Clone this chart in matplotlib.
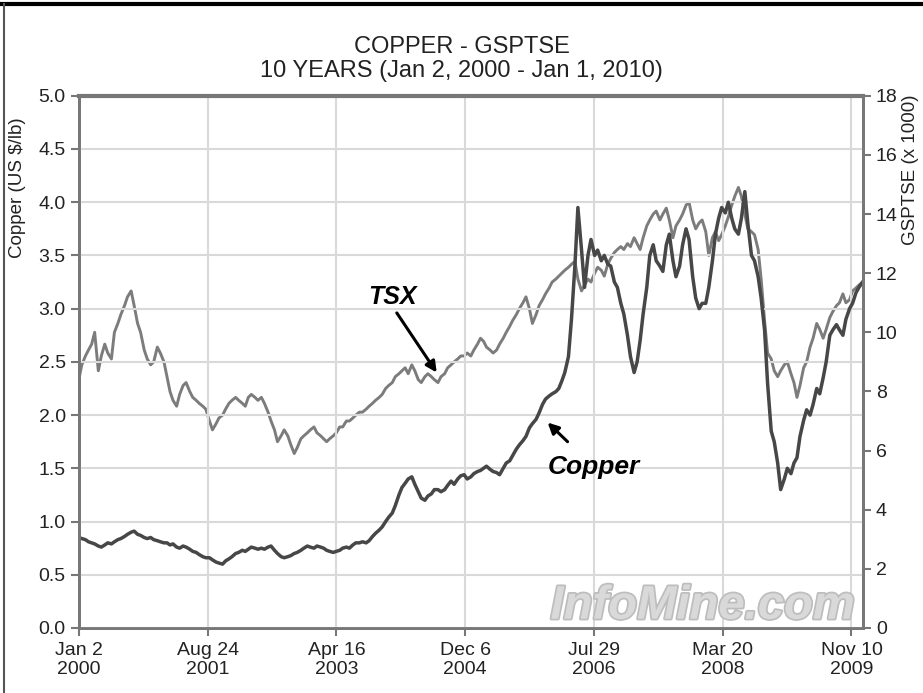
import matplotlib.pyplot as plt
import matplotlib.dates as mdates
import matplotlib.patheffects as pe
from matplotlib.lines import Line2D
import pandas as pd

plt.rcParams['font.family'] = ['Liberation Sans', 'DejaVu Sans']

# half-monthly readings (1st and 15th), Jan 2000 .. Jan 1 2010
dates = pd.date_range("2000-01-01", "2010-01-01", freq="SMS")

copper = [
    .85, .84, .83, .81, .80, .79, .77, .76, .78, .80, .79, .81, .83, .84, .86, .88, .90, .91, .88, .87, .85, .84, .85, .83,
    .82, .81, .80, .80, .78, .79, .76, .75, .77, .76, .74, .72, .71, .69, .67, .66, .66, .64, .62, .61, .60, .63, .65, .67,
    .70, .71, .73, .72, .74, .76, .75, .74, .75, .74, .76, .77, .73, .70, .67, .66, .67, .68, .70, .71, .73, .75, .77, .76,
    .75, .77, .76, .75, .73, .72, .71, .72, .73, .75, .76, .75, .78, .80, .80, .81, .80, .82, .86, .89, .92, .95, 1.00, 1.04,
    1.08, 1.15, 1.25, 1.32, 1.36, 1.40, 1.42, 1.35, 1.28, 1.22, 1.20, 1.24, 1.26, 1.30, 1.30, 1.28, 1.30, 1.34, 1.38, 1.35, 1.40, 1.43, 1.44, 1.40,
    1.42, 1.45, 1.47, 1.48, 1.50, 1.52, 1.49, 1.47, 1.46, 1.44, 1.50, 1.55, 1.57, 1.62, 1.68, 1.72, 1.76, 1.80, 1.88, 1.92, 1.96, 2.02, 2.10, 2.15,
    2.18, 2.20, 2.22, 2.25, 2.32, 2.40, 2.55, 2.90, 3.40, 3.95, 3.55, 3.20, 3.50, 3.65, 3.50, 3.55, 3.45, 3.50, 3.42, 3.40, 3.25, 3.20, 3.05, 2.95,
    2.75, 2.55, 2.40, 2.50, 2.70, 2.95, 3.20, 3.50, 3.60, 3.45, 3.40, 3.35, 3.60, 3.70, 3.45, 3.30, 3.40, 3.60, 3.75, 3.65, 3.30, 3.10, 3.00, 3.05,
    3.05, 3.20, 3.45, 3.70, 3.85, 3.95, 3.90, 4.00, 3.85, 3.75, 3.70, 3.85, 4.10, 3.80, 3.50, 3.45, 3.30, 3.10, 2.80, 2.30, 1.85, 1.75, 1.55, 1.30,
    1.40, 1.50, 1.45, 1.55, 1.60, 1.80, 1.95, 2.05, 2.00, 2.10, 2.25, 2.20, 2.35, 2.50, 2.75, 2.80, 2.85, 2.80, 2.75, 2.90, 3.00, 3.05, 3.15, 3.20,
    3.25,
]

tsx = [
    8.4, 8.9, 9.2, 9.4, 9.6, 10.0, 8.7, 9.2, 9.6, 9.3, 9.1, 10.0, 10.3, 10.6, 10.9, 11.2, 11.4, 10.9, 10.3, 10.0, 9.4, 9.1, 8.9, 9.0,
    9.5, 9.3, 9.0, 8.5, 8.0, 7.7, 7.5, 7.9, 8.2, 8.3, 8.0, 7.8, 7.7, 7.6, 7.5, 7.4, 7.0, 6.7, 6.9, 7.1, 7.2, 7.4, 7.6, 7.7,
    7.8, 7.7, 7.6, 7.5, 7.8, 7.9, 7.8, 7.7, 7.8, 7.6, 7.3, 7.0, 6.7, 6.3, 6.5, 6.7, 6.5, 6.2, 5.9, 6.1, 6.4, 6.5, 6.6, 6.7,
    6.8, 6.6, 6.5, 6.4, 6.3, 6.4, 6.5, 6.6, 6.8, 6.8, 7.0, 7.0, 7.1, 7.2, 7.3, 7.3, 7.4, 7.5, 7.6, 7.7, 7.8, 7.9, 8.1, 8.2,
    8.3, 8.5, 8.6, 8.7, 8.8, 8.6, 8.9, 8.7, 8.4, 8.3, 8.5, 8.6, 8.5, 8.4, 8.3, 8.5, 8.6, 8.8, 8.9, 9.0, 9.1, 9.2, 9.2, 9.3,
    9.2, 9.4, 9.6, 9.8, 9.7, 9.5, 9.4, 9.3, 9.4, 9.6, 9.8, 10.0, 10.2, 10.4, 10.6, 10.8, 11.0, 11.2, 10.8, 10.3, 10.6, 10.9, 11.1, 11.3,
    11.5, 11.7, 11.8, 11.9, 12.0, 12.1, 12.2, 12.3, 12.4, 11.8, 11.4, 11.6, 11.8, 11.7, 12.0, 12.2, 12.1, 11.9, 12.3, 12.5, 12.7, 12.8, 12.9, 12.8,
    13.0, 12.9, 13.2, 13.0, 12.8, 13.2, 13.6, 13.8, 14.0, 14.1, 13.8, 14.0, 14.2, 13.8, 13.2, 13.6, 13.8, 14.0, 14.3, 14.4, 13.8, 13.5, 13.7, 13.8,
    13.4, 12.6, 13.2, 13.4, 13.1, 13.3, 13.6, 13.9, 14.3, 14.6, 14.9, 14.6, 14.0, 13.5, 13.4, 13.3, 12.8, 11.8, 10.4, 9.3, 9.1, 8.7, 8.5, 8.7,
    8.9, 9.0, 8.6, 8.3, 7.8, 8.2, 8.8, 9.0, 9.5, 9.8, 10.3, 10.1, 9.8, 10.1, 10.5, 10.7, 10.9, 11.0, 11.3, 11.0, 11.1, 11.4, 11.5, 11.6,
    11.7,
]

tick_dates = ["2000-01-02", "2001-08-24", "2003-04-16", "2004-12-06", "2006-07-29", "2008-03-20", "2009-11-10"]
tick_labels = ["Jan 2\n2000", "Aug 24\n2001", "Apr 16\n2003", "Dec 6\n2004", "Jul 29\n2006", "Mar 20\n2008", "Nov 10\n2009"]

fig = plt.figure(figsize=(9.23, 6.93), dpi=100)
ax = fig.add_axes([0.0856, 0.0938, 0.849, 0.768])
ax2 = ax.twinx()

ax.grid(True, color='#d9d9d9', lw=1.5)
ax.set_axisbelow(True)

ax2.plot(dates, tsx, color='#7c7c7c', lw=2.1)
ax.plot(dates, copper, color='#474747', lw=2.5)
ax.set_zorder(2)
ax2.set_zorder(1)
ax.patch.set_visible(False)

ax.set_xlim(pd.Timestamp("2000-01-02"), pd.Timestamp("2010-01-01"))
ax.set_ylim(0, 5)
ax2.set_ylim(0, 18)
ax.set_yticks([0, 0.5, 1, 1.5, 2, 2.5, 3, 3.5, 4, 4.5, 5])
ax.set_yticklabels(["%.1f" % v for v in ax.get_yticks()])
ax2.set_yticks(range(0, 19, 2))
ax.set_xticks(pd.to_datetime(tick_dates))
ax.set_xticklabels(tick_labels)

for a in (ax, ax2):
    for s in a.spines.values():
        s.set_color('#777777')
        s.set_linewidth(2)
    a.tick_params(colors='#777777', labelcolor='#222222', labelsize=14, length=6, width=1.5)
ax.spines['top'].set_linewidth(3)
ax.tick_params(axis='x', pad=4)

fig.text(0.5, 0.915, "COPPER - GSPTSE\n10 YEARS (Jan 2, 2000 - Jan 1, 2010)",
         ha='center', va='center', fontsize=17, color='#222222', linespacing=1.1)
fig.text(0.019, 0.729, "Copper (US $/lb)", rotation=90, ha='center', va='center', fontsize=13.5, color='#222222')
fig.text(0.986, 0.755, "GSPTSE (x 1000)", rotation=90, ha='center', va='center', fontsize=13.5, color='#222222')

arrow = dict(arrowstyle='-|>', color='black', lw=2.2, mutation_scale=16, shrinkA=0, shrinkB=0)
ax.annotate("", xy=(pd.Timestamp("2004-07-26"), 2.40), xytext=(pd.Timestamp("2004-01-22"), 2.96), arrowprops=arrow)
ax.text(pd.Timestamp("2004-01-03"), 3.11, "TSX", ha='center', va='center', fontsize=18,
        fontweight='bold', fontstyle='italic', color='black')
ax.annotate("", xy=(pd.Timestamp("2005-12-25"), 1.93), xytext=(pd.Timestamp("2006-03-28"), 1.75), arrowprops=arrow)
ax.text(pd.Timestamp("2006-07-27"), 1.51, "Copper", ha='center', va='center', fontsize=19,
        fontweight='bold', fontstyle='italic', color='black')

ax.text(0.796, 0.04, "InfoMine.com", transform=ax.transAxes, ha='center', va='center',
        fontsize=34, fontweight='bold', fontstyle='italic', color='#d9d9d9',
        path_effects=[pe.Stroke(linewidth=2.5, foreground='#bdbdbd'), pe.Normal()])

# frame around the picture
fig.add_artist(Line2D([0, 1], [0.994, 0.994], transform=fig.transFigure, color='black', lw=3))
fig.add_artist(Line2D([0.004, 0.004], [0, 0.994], transform=fig.transFigure, color='#555555', lw=1.5))

fig.savefig("out.png", dpi=100)
